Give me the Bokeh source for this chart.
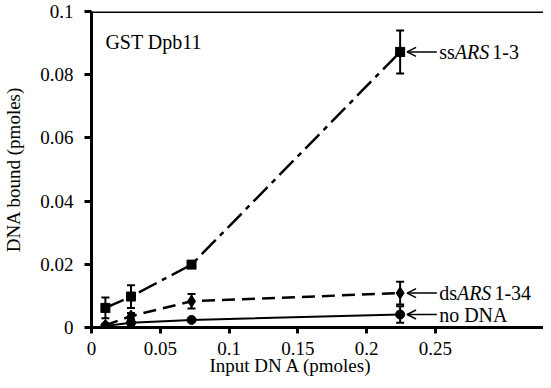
import math
from bokeh.plotting import figure
from bokeh.models import (ColumnDataSource, Whisker, TeeHead, Arrow, OpenHead, Label,
                          FixedTicker, Span, Range1d, Title)
from bokeh.embed import file_html
from bokeh.resources import INLINE

# ---- data ----
input_dna = [0.0101, 0.0287, 0.0727, 0.2243]
ss_ars = [0.0062, 0.0098, 0.0199, 0.0872]
ss_err = [0.0033, 0.0036, 0.0006, 0.0068]
ds_ars = [0.0007, 0.0036, 0.0083, 0.0109]
ds_err = [0.0004, 0.0010, 0.0023, 0.0036]
no_dna = [0.0005, 0.0015, 0.0024, 0.0041]
no_err = [0.0002, 0.0005, 0.0004, 0.0026]

x_ticks = [0, 0.05, 0.1, 0.15, 0.2, 0.25]
x_tick_labels = ["0", "0.05", "0.1", "0.15", "0.2", "0.25"]
y_ticks = [0, 0.02, 0.04, 0.06, 0.08, 0.1]
y_tick_labels = ["0", "0.02", "0.04", "0.06", "0.08", "0.1"]

FONT = "Liberation Serif"

p = figure(width=543, height=380, output_backend="svg", toolbar_location=None,
           x_range=Range1d(0, 0.3285), y_range=Range1d(0, 0.1),
           min_border_left=88, min_border_right=0, min_border_top=11, min_border_bottom=53)
p.outline_line_color = None
p.grid.visible = False
p.background_fill_color = "white"
p.border_fill_color = "white"

for ax in (p.xaxis[0], p.yaxis[0]):
    ax.axis_line_width = 3
    ax.axis_line_color = "black"
    ax.major_tick_line_width = 3
    ax.major_tick_line_color = "black"
    ax.major_tick_in = 0
    ax.minor_tick_line_color = None
    ax.major_label_text_font = FONT
    ax.major_label_text_font_size = "19px"
    ax.major_label_text_color = "black"

p.xaxis.ticker = FixedTicker(ticks=x_ticks)
p.xaxis.major_label_overrides = dict(zip(x_ticks, x_tick_labels))
p.xaxis.major_tick_out = 6
p.xaxis.major_label_standoff = 8
p.yaxis.ticker = FixedTicker(ticks=y_ticks)
p.yaxis.major_label_overrides = dict(zip(y_ticks, y_tick_labels))
p.yaxis.major_tick_out = 7
p.yaxis.major_label_standoff = 11
p.yaxis.axis_label = "DNA bound (pmoles)"
p.yaxis.axis_label_text_font = FONT
p.yaxis.axis_label_text_font_size = "19px"
p.yaxis.axis_label_text_font_style = "normal"
p.yaxis.axis_label_text_color = "black"
p.yaxis.axis_label_standoff = 13

# x-axis title, placed below the axis
p.add_layout(Title(text="Input DN A (pmoles)", align="left", offset=118, standoff=-9,
                   text_font=FONT, text_font_size="19px", text_font_style="normal",
                   text_color="black"), "below")

# top frame line
p.add_layout(Span(location=0.1, dimension="width", line_color="black", line_width=3))

series = [
    (ss_ars, ss_err, "20 6 5 6", 2.5, "square_x", 9),
    (ds_ars, ds_err, "13 7", 2.5, "diamond", 12),
    (no_dna, no_err, "solid", 2, "circle", 9),
]
for vals, errs, dash, lw, marker, msize in series:
    src = ColumnDataSource(dict(x=input_dna, y=vals,
                                lower=[v - e for v, e in zip(vals, errs)],
                                upper=[v + e for v, e in zip(vals, errs)]))
    p.line("x", "y", source=src, line_color="black", line_width=lw, line_dash=dash)
    p.add_layout(Whisker(source=src, base="x", lower="lower", upper="upper",
                         line_color="black", line_width=2,
                         upper_head=TeeHead(size=8, line_width=2, line_color="black"),
                         lower_head=TeeHead(size=8, line_width=2, line_color="black")))
    p.scatter("x", "y", source=src, marker=marker, size=msize,
              fill_color="black", line_color="black")

# annotations with arrows
xl = input_dna[-1]
px_per_x = 455 / 0.3285
labels = [
    (ss_ars[-1], ["ss", "ARS", "1-3"]),
    (ds_ars[-1], ["ds", "ARS", "1-34"]),
    (no_dna[-1], ["no DNA"]),
]
char_w = {"ss": 15.6, "ds": 17.8, "ARS": 35.5}
for yv, parts in labels:
    p.add_layout(Arrow(x_start=xl + 37 / px_per_x, y_start=yv, x_end=xl + 7 / px_per_x, y_end=yv,
                       line_color="black", line_width=1.5,
                       end=OpenHead(size=9, line_width=1.5, line_color="black")))
    off = 39
    for part in parts:
        italic = part == "ARS"
        p.add_layout(Label(x=xl, y=yv, x_offset=off, text=part, text_font=FONT,
                           text_font_size="20px", text_baseline="middle",
                           text_font_style="italic" if italic else "normal",
                           text_color="black"))
        off += char_w.get(part, 0) + (2 if italic else 0)

p.add_layout(Label(x=0.0101, y=0.0905, text="GST Dpb11", text_font=FONT,
                   text_font_size="20px", text_baseline="alphabetic", text_color="black"))

open("out.html", "w").write(file_html(p, INLINE))
